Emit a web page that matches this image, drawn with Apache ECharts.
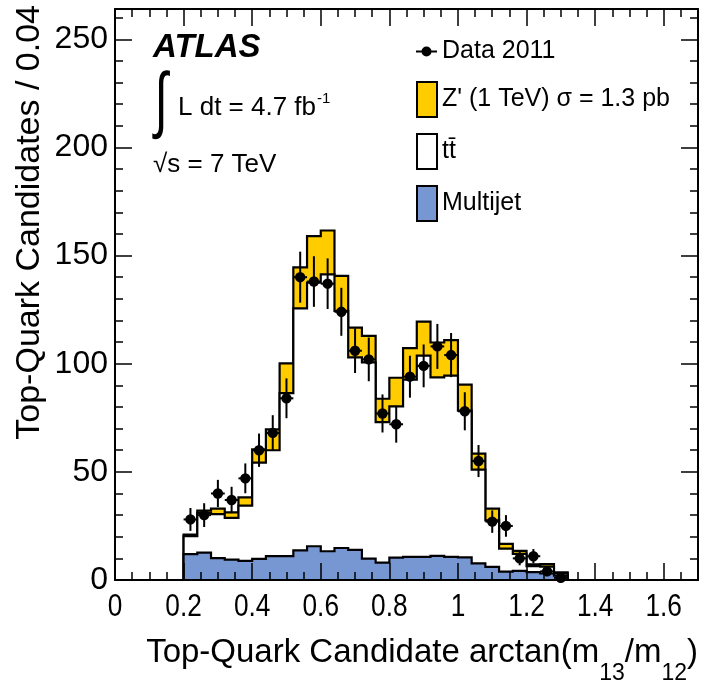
<!DOCTYPE html>
<html><head><meta charset="utf-8">
<script src="https://cdn.jsdelivr.net/npm/echarts@6/dist/echarts.min.js"></script>
<style>html,body{margin:0;padding:0;background:#fff}#c{width:704px;height:686px}</style>
</head><body><div id="c"></div>
<script>
// ---- data ----
const binEdges = [0.20,0.24,0.28,0.32,0.36,0.40,0.44,0.48,0.52,0.56,0.60,0.64,0.68,0.72,0.76,0.80,0.84,0.88,0.92,0.96,1.00,1.04,1.08,1.12,1.16,1.20,1.24,1.28,1.32];
const multijet = [12.0,12.7,10.1,9.4,8.8,9.8,11.0,11.0,13.7,15.6,13.3,14.8,13.9,9.9,8.0,10.3,10.7,10.7,11.2,10.7,10.5,7.7,6.1,3.9,4.2,3.6,3.0,2.0];
const ttbarPlusMultijet = [20.3,31.0,30.5,28.7,34.4,54.3,60.0,86.4,125.6,137.5,141.3,124.4,102.9,100.6,73.0,80.3,92.6,103.7,93.7,94.5,78.3,51.0,27.6,14.5,12.1,6.4,6.2,3.1];
const zprimePlusBkg = [21.0,32.1,33.0,31.3,38.2,60.4,69.6,100.2,144.5,159.0,161.6,140.6,116.7,112.9,83.8,93.5,107.2,119.5,109.8,110.9,90.3,58.4,33.0,16.7,13.5,7.2,7.3,3.5];
const dataX = [0.22,0.26,0.30,0.34,0.38,0.42,0.46,0.50,0.54,0.58,0.62,0.66,0.70,0.74,0.78,0.82,0.86,0.90,0.94,0.98,1.02,1.06,1.10,1.14,1.18,1.22,1.26,1.30];
const dataY = [28,30,40,37,47,60,68,84,140,138,137,124,106,102,77,72,94,99,108,104,78,55,27,25,10,11,4,1];
const dataErr = [5.3,5.5,6.3,6.1,6.9,7.7,8.2,9.2,11.8,11.7,11.7,11.1,10.3,10.1,8.8,8.5,9.7,9.9,10.4,10.2,8.8,7.4,5.2,5.0,3.2,3.3,2.0,1.0];
const binHalfWidth = 0.02;
const seriesNames = ['Data 2011', "Z' (1 TeV) σ = 1.3 pb", 'tt\u0304', 'Multijet'];
const xTickValues = [0, 0.2, 0.4, 0.6, 0.8, 1.0, 1.2, 1.4, 1.6];
const xTickLabels = ['0','0.2','0.4','0.6','0.8','1','1.2','1.4','1.6'];
const yTickLabels = ['0','50','100','150','200','250'];

// ---- styling ----
const FONT = '"Liberation Sans", Arial, Helvetica, sans-serif';
const YELLOW = '#FFCC00', BLUE = '#7797D2';

const chart = echarts.init(document.getElementById('c'), null, {renderer: 'canvas'});

function histLayer(name, values, fill, z) {
  return {
    type: 'custom', name: name, z: z, xAxisIndex: 0, yAxisIndex: 0,
    itemStyle: {color: fill, borderColor: '#000', borderWidth: 2},
    data: values.map((v, i) => [binEdges[i], binEdges[i + 1], v]),
    encode: {x: [0, 1], y: 2},
    renderItem: function (params, api) {
      if (params.dataIndex !== 0) return null;
      const pts = [api.coord([binEdges[0], 0])];
      for (let i = 0; i < values.length; i++) {
        pts.push(api.coord([binEdges[i], values[i]]));
        pts.push(api.coord([binEdges[i + 1], values[i]]));
      }
      pts.push(api.coord([binEdges[values.length], 0]));
      return {type: 'group', children: [
        {type: 'polygon', shape: {points: pts}, style: {fill: fill, stroke: null}},
        {type: 'polyline', shape: {points: pts}, style: {fill: null, stroke: '#000', lineWidth: 2.2}}
      ]};
    }
  };
}

const dataSeries = {
  type: 'custom', name: seriesNames[0], z: 6, xAxisIndex: 0, yAxisIndex: 0,
  itemStyle: {color: '#000'},
  data: dataX.map((x, i) => [x, dataY[i], dataErr[i]]),
  encode: {x: 0, y: 1},
  renderItem: function (params, api) {
    const x = api.value(0), y = api.value(1), e = api.value(2);
    const c = api.coord([x, y]);
    const lo = api.coord([x, y - e]), hi = api.coord([x, y + e]);
    const l = api.coord([x - binHalfWidth, y]), r = api.coord([x + binHalfWidth, y]);
    return {type: 'group', children: [
      {type: 'line', shape: {x1: lo[0], y1: lo[1], x2: hi[0], y2: hi[1]}, style: {stroke: '#000', lineWidth: 2}},
      {type: 'line', shape: {x1: l[0], y1: l[1], x2: r[0], y2: r[1]}, style: {stroke: '#000', lineWidth: 2}},
      {type: 'circle', shape: {cx: c[0], cy: c[1], r: 5.2}, style: {fill: '#000'}}
    ]};
  }
};

function tickAxis(pos, min, max, interval, len, showLine, labels) {
  return {
    type: 'value', position: pos, min: min, max: max, interval: interval, z: 10,
    splitLine: {show: false},
    axisLine: {show: showLine, onZero: false, lineStyle: {color: '#000', width: 2}},
    axisTick: {show: true, inside: true, length: len, lineStyle: {color: '#000', width: 1.5}},
    axisLabel: labels ? labels : {show: false}
  };
}

const yMax = 264;
const yLabel = {show: true, fontSize: 32, fontFamily: FONT, color: '#000', margin: 7, showMaxLabel: false,
  formatter: v => { const k = yTickLabels.findIndex(s => Math.abs(parseFloat(s) - v) < 1e-6); return k >= 0 ? yTickLabels[k] : ''; }};

// text measurement for composed axis title
const mctx = document.createElement('canvas').getContext('2d');
function tw(str, size) { mctx.font = size + 'px ' + FONT; return mctx.measureText(str).width; }

const MAIN = 33, SUB = 23;
const titleParts = [['Top-Quark Candidate arctan(m', MAIN, 0], ['13', SUB, 1], ['/m', MAIN, 0], ['12', SUB, 1], [')', MAIN, 0]];
const titleRight = 698, mainBase = 664, subBase = 682;
let totalW = 0; titleParts.forEach(p => totalW += tw(p[0], p[1]));
let cx = titleRight - totalW;
const graphics = [];
titleParts.forEach(p => {
  const base = p[2] ? subBase : mainBase;
  graphics.push({type: 'text', x: cx, y: base - 0.3465 * p[1], z: 20,
    style: {text: p[0], font: p[1] + 'px ' + FONT, fill: '#000', textAlign: 'left', textVerticalAlign: 'middle', verticalAlign: 'middle'}});
  cx += tw(p[0], p[1]);
});
// y title (rotated)
graphics.push({type: 'text', x: 30, y: 5, rotation: Math.PI / 2, z: 20,
  style: {text: 'Top-Quark Candidates / 0.04', font: '34px ' + FONT, fill: '#000', textAlign: 'right', textVerticalAlign: 'middle', verticalAlign: 'middle'}});
// ATLAS labels
graphics.push({type: 'text', x: 153, y: 47.5, z: 20,
  style: {text: 'ATLAS', font: 'italic bold 33px ' + FONT, fill: '#000', textAlign: 'left', textVerticalAlign: 'middle', verticalAlign: 'middle'}});
graphics.push({type: 'text', x: 161, y: 104, scaleX: 0.85, scaleY: 1.3, z: 20,
  style: {text: '∫', font: '56px ' + FONT, fill: '#000', textAlign: 'center', textVerticalAlign: 'middle', verticalAlign: 'middle'}});
const lumiText = 'L dt = 4.7 fb';
graphics.push({type: 'text', x: 178, y: 117 - 0.3465 * 26, z: 20,
  style: {text: lumiText, font: '26px ' + FONT, fill: '#000', textAlign: 'left', textVerticalAlign: 'middle', verticalAlign: 'middle'}});
graphics.push({type: 'text', x: 178 + tw(lumiText, 26) + 1, y: 99, z: 20,
  style: {text: '-1', font: '15px ' + FONT, fill: '#000', textAlign: 'left', textVerticalAlign: 'middle', verticalAlign: 'middle'}});
graphics.push({type: 'text', x: 153, y: 174 - 0.3465 * 26, z: 20,
  style: {text: '√s = 7 TeV', font: '26px ' + FONT, fill: '#000', textAlign: 'left', textVerticalAlign: 'middle', verticalAlign: 'middle'}});

const legendText = {fontSize: 25, fontFamily: FONT, color: '#000'};
const option = {
  backgroundColor: '#fff',
  animation: false,
  grid: {left: 115, right: 6, top: 9, bottom: 106, containLabel: false},
  xAxis: [
    tickAxis('bottom', 0, 1.7, 0.2, 17, true, null),
    tickAxis('bottom', 0, 1.7, 0.05, 8, false, null),
    tickAxis('top', 0, 1.7, 0.2, 17, true, null),
    tickAxis('top', 0, 1.7, 0.05, 8, false, null)
  ],
  yAxis: [
    tickAxis('left', 0, yMax, 50, 17, true, yLabel),
    tickAxis('left', 0, yMax, 10, 8, false, null),
    tickAxis('right', 0, yMax, 50, 17, true, null),
    tickAxis('right', 0, yMax, 10, 8, false, null)
  ],
  legend: [
    {orient: 'vertical', left: 416, top: 39, padding: 0, itemGap: 0, itemWidth: 21, itemHeight: 10, selectedMode: false,
     textStyle: legendText,
     data: [{name: seriesNames[0], icon: 'path://M0,4.2L21,4.2L21,6.2L0,6.2Z M15.5,5.2A5,5,0,1,1,5.5,5.2A5,5,0,1,1,15.5,5.2Z', itemStyle: {color: '#000', borderWidth: 0}}]},
    {orient: 'vertical', left: 416, top: 81, padding: 0, itemGap: 15, itemWidth: 20, itemHeight: 35, selectedMode: false,
     textStyle: legendText,
     data: [
       {name: seriesNames[1], icon: 'rect', itemStyle: {color: YELLOW, borderColor: '#000', borderWidth: 2}},
       {name: seriesNames[2], icon: 'rect', itemStyle: {color: '#fff', borderColor: '#000', borderWidth: 2}},
       {name: seriesNames[3], icon: 'rect', itemStyle: {color: BLUE, borderColor: '#000', borderWidth: 2}}
     ]}
  ],
  graphic: graphics,
  series: [
    histLayer(seriesNames[1], zprimePlusBkg, YELLOW, 2),
    histLayer(seriesNames[2], ttbarPlusMultijet, '#fff', 3),
    histLayer(seriesNames[3], multijet, BLUE, 4),
    dataSeries
  ]
};
chart.setOption(option);

// x tick labels: condensed text placed through the x axis scale
const xLabelGraphics = xTickValues.map((v, i) => {
  const px = chart.convertToPixel({xAxisIndex: 0}, v);
  const py = chart.convertToPixel({yAxisIndex: 0}, 0);
  return {type: 'text', x: px, y: py + 27, scaleX: 0.82, z: 20,
    style: {text: xTickLabels[i], font: '32px ' + FONT, fill: '#000', textAlign: 'center', textVerticalAlign: 'middle', verticalAlign: 'middle'}};
});
chart.setOption({graphic: graphics.concat(xLabelGraphics)});
</script></body></html>
